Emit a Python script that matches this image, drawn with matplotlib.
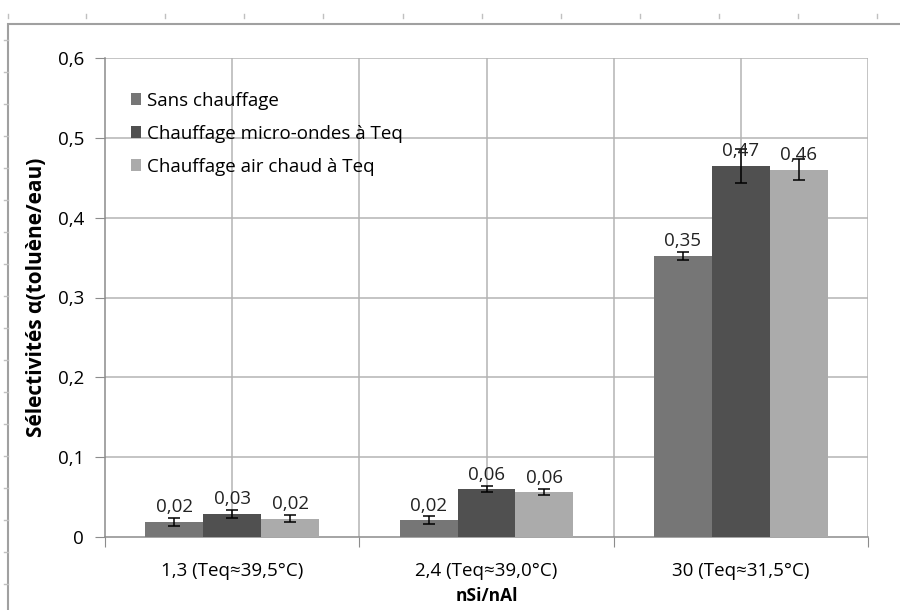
import matplotlib.pyplot as plt
import numpy as np
from matplotlib.patches import Rectangle
from matplotlib.lines import Line2D

# Data
categories = ["1,3 (Teq≈39,5°C)", "2,4 (Teq≈39,0°C)", "30 (Teq≈31,5°C)"]
series_names = ["Sans chauffage", "Chauffage micro-ondes à Teq", "Chauffage air chaud à Teq"]
sans_chauffage = [0.019, 0.021, 0.352]
micro_ondes = [0.029, 0.060, 0.465]
air_chaud = [0.023, 0.056, 0.460]
err_sans = [0.005, 0.005, 0.005]
err_micro = [0.005, 0.004, 0.021]
err_air = [0.0045, 0.004, 0.013]
labels_sans = ["0,02", "0,02", "0,35"]
labels_micro = ["0,03", "0,06", "0,47"]
labels_air = ["0,02", "0,06", "0,46"]

colors = ["#767676", "#505050", "#ababab"]
plt.rcParams["font.family"] = ["Open Sans", "DejaVu Sans"]
fs = 13.5

fig = plt.figure(figsize=(9, 6.1), dpi=100)
ax = fig.add_axes([105 / 900, 73 / 610, 763 / 900, 479 / 610])

x = np.arange(len(categories))
width = 0.228
series = [
    (sans_chauffage, err_sans, labels_sans),
    (micro_ondes, err_micro, labels_micro),
    (air_chaud, err_air, labels_air),
]
for i, (vals, errs, labs) in enumerate(series):
    pos = x + (i - 1) * width
    ax.bar(pos, vals, width, color=colors[i], label=series_names[i], zorder=3,
           edgecolor="none")
    ax.errorbar(pos, vals, yerr=errs, fmt="none", ecolor="black", elinewidth=1.1,
                capsize=4, capthick=1.1, zorder=4)
    for p, v, t in zip(pos, vals, labs):
        ax.annotate(t, (p, v), xytext=(0, 4), textcoords="offset points",
                    ha="center", va="bottom", fontsize=fs, color="#222222", zorder=5)

ax.set_xlim(-0.5, 2.5)
ax.set_ylim(0, 0.6)
ax.set_yticks(np.arange(0, 0.61, 0.1))
ax.set_yticklabels(["0", "0,1", "0,2", "0,3", "0,4", "0,5", "0,6"], fontsize=fs)

# category boundaries as major ticks, labels on minor ticks at centres
ax.set_xticks([-0.5, 0.5, 1.5, 2.5])
ax.set_xticklabels([])
ax.set_xticks(x, minor=True)
ax.set_xticklabels(categories, minor=True, fontsize=fs)
ax.tick_params(axis="x", which="major", length=7, color="#8c8c8c")
ax.tick_params(axis="x", which="minor", length=0, pad=18)
ax.tick_params(axis="y", length=7, color="#8c8c8c", pad=8)

for yv in np.arange(0.1, 0.61, 0.1):
    ax.axhline(yv, color="#b4b4b4", lw=1.1, zorder=1)
for xv in np.arange(0.0, 2.51, 0.5):
    ax.axvline(xv, color="#b4b4b4", lw=1.1, zorder=1)

for s in ["top", "right"]:
    ax.spines[s].set_visible(False)
for s in ["left", "bottom"]:
    ax.spines[s].set_color("#8c8c8c")
    ax.spines[s].set_linewidth(1.1)

ax.set_ylabel("Sélectivités α(toluène/eau)", fontsize=15, fontweight="bold", labelpad=8)
ax.set_xlabel("nSi/nAl", fontsize=12.5, fontweight="bold", labelpad=5)

leg = ax.legend(loc="upper left", bbox_to_anchor=(0.012, 0.965), frameon=False,
                fontsize=fs, handlelength=0.55, handleheight=0.55, handletextpad=0.3,
                labelspacing=0.8)

# outer chart-area frame with sheet ticks
fig.add_artist(Rectangle((8 / 900, -0.01), 1.0, 1 - 18 / 610, transform=fig.transFigure,
                         fill=False, edgecolor="#a0a0a0", lw=1.5))
for xt in [8, 86, 165, 244, 323, 403, 482, 561, 640, 719, 798, 877]:
    fig.add_artist(Line2D([xt / 900, xt / 900], [1 - 14 / 610, 1 - 18 / 610],
                          transform=fig.transFigure, color="#c0c0c0", lw=1))
for yt in np.arange(40, 610, 32):
    fig.add_artist(Line2D([4 / 900, 8 / 900], [1 - yt / 610, 1 - yt / 610],
                          transform=fig.transFigure, color="#c0c0c0", lw=1))

fig.savefig("out.png", dpi=100)
